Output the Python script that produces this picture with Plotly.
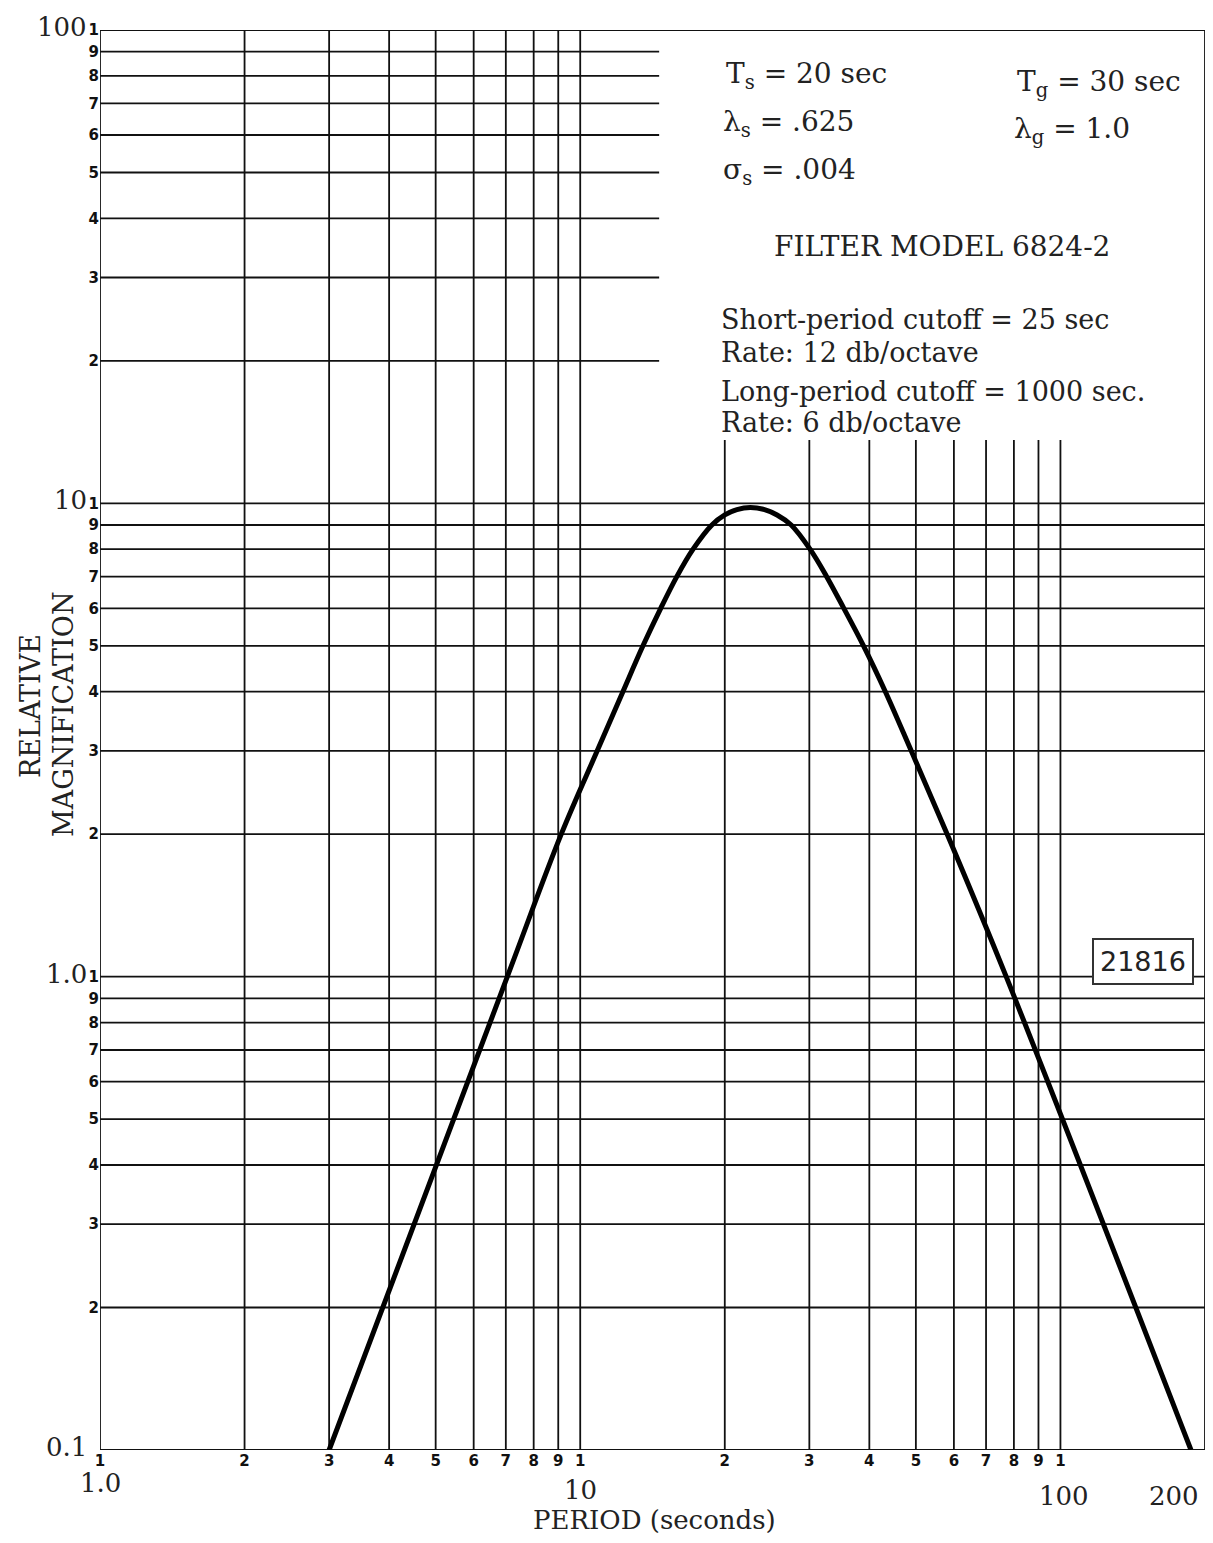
import math
import plotly.graph_objects as go

# ---------------- data ----------------
period = [3.0, 7.05, 9.13, 10.85, 12.27, 13.51, 14.71, 15.89, 17.18, 18.8, 20.0, 21.2,
          22.6, 24.2, 25.7, 27.5, 30.1, 32.6, 35.4, 38.9, 43.2, 48.9, 58.1, 77.1, 187.0]
magnification = [0.1, 1.0, 2.0, 3.0, 4.0, 5.0, 6.0, 7.0, 8.0, 9.0, 9.45, 9.7,
                 9.8, 9.7, 9.45, 9.0, 8.0, 7.0, 6.0, 5.0, 4.0, 3.0, 2.0, 1.0, 0.1]

x_grid_full = [1, 2, 3, 4, 5, 6, 7, 8, 9, 10, 200]
x_grid_short = [20, 30, 40, 50, 60, 70, 80, 90, 100]
y_grid_full = [0.1, 0.2, 0.3, 0.4, 0.5, 0.6, 0.7, 0.8, 0.9,
               1, 2, 3, 4, 5, 6, 7, 8, 9, 10, 100]
y_grid_short = [20, 30, 40, 50, 60, 70, 80, 90]

x_tickvals = [1, 2, 3, 4, 5, 6, 7, 8, 9, 10, 20, 30, 40, 50, 60, 70, 80, 90, 100, 200]
x_ticktext = ["1", "2", "3", "4", "5", "6", "7", "8", "9", "1",
              "2", "3", "4", "5", "6", "7", "8", "9", "1", "2"]
y_tickvals = [0.1, 0.2, 0.3, 0.4, 0.5, 0.6, 0.7, 0.8, 0.9, 1, 2, 3, 4, 5, 6, 7, 8, 9,
              10, 20, 30, 40, 50, 60, 70, 80, 90, 100]
y_ticktext = ["", "2", "3", "4", "5", "6", "7", "8", "9", "1", "2", "3", "4", "5", "6",
              "7", "8", "9", "1", "2", "3", "4", "5", "6", "7", "8", "9", "1"]

x_big_vals = [1, 10, 100, 200]
x_big_text = ["1.0", "10", "100", "200"]
y_big_vals = [100, 10, 1, 0.1]
y_big_text = ["100", "10", "1.0", "0.1"]

X_MIN, X_MAX = 1, 200
Y_MIN, Y_MAX = 0.1, 100
X_SHORT_END = 14.6     # top-decade horizontal lines stop here
Y_SHORT_END = 13.6     # second-decade vertical lines stop here

# ---------------- figure ----------------
fig = go.Figure()

gx, gy = [], []
for v in x_grid_full:
    gx += [v, v, None]; gy += [Y_MIN, Y_MAX, None]
for v in x_grid_short:
    gx += [v, v, None]; gy += [Y_MIN, Y_SHORT_END, None]
for v in y_grid_full:
    gx += [X_MIN, X_MAX, None]; gy += [v, v, None]
for v in y_grid_short:
    gx += [X_MIN, X_SHORT_END, None]; gy += [v, v, None]
fig.add_trace(go.Scatter(x=gx, y=gy, mode="lines",
                         line=dict(color="#111111", width=1.8),
                         hoverinfo="skip", showlegend=False))

fig.add_trace(go.Scatter(x=period, y=magnification, mode="lines",
                         line=dict(color="#000000", width=5, shape="spline", smoothing=1.0),
                         showlegend=False))

serif = "DejaVu Serif"
TXT = "#222222"

# plot area on the page (the page body has an 8px margin)
PL, PR, PT, PB = 100, 1205, 30, 1450

def px2paper(px, py):
    return (px - PL) / (PR - PL), (PB - py) / (PB - PT)

anns = []
xshift_big = {1: 0, 10: 0, 100: 4, 200: -31}
yshift_big = {1: -33, 10: -40, 100: -46, 200: -46}
for v, t in zip(x_big_vals, x_big_text):
    anns.append(dict(x=math.log10(v), y=math.log10(Y_MIN), xref="x", yref="y", text=t,
                     showarrow=False, yshift=yshift_big[v], xshift=xshift_big[v],
                     xanchor="center", yanchor="middle",
                     font=dict(family=serif, size=26, color=TXT)))
for v, t in zip(y_big_vals, y_big_text):
    anns.append(dict(x=0, y=math.log10(v), xref="x", yref="y", text=t,
                     showarrow=False, xshift=-11, yshift=3, xanchor="right", yanchor="middle",
                     font=dict(family=serif, size=26, color=TXT)))

def pa(px, py, text, size=27, xanchor="left", fam=serif, **kw):
    x, y = px2paper(px, py)
    d = dict(x=x, y=y, xref="paper", yref="paper", text=text, showarrow=False,
             xanchor=xanchor, yanchor="middle", font=dict(family=fam, size=size, color=TXT))
    d.update(kw)
    anns.append(d)

pa(724, 76, "T<sub>s</sub> = 20 sec", size=28)
pa(1015, 84, "T<sub>g</sub> = 30 sec", size=28)
pa(721, 123, "λ<sub>s</sub> = .625", size=28)
pa(1012, 130, "λ<sub>g</sub> = 1.0", size=28)
pa(721, 172, "σ<sub>s</sub> = .004", size=28)
pa(942, 246, "FILTER MODEL 6824-2", size=28, xanchor="center")
pa(719, 320, "Short-period cutoff = 25 sec")
pa(719, 352, "Rate: 12 db/octave")
pa(719, 391, "Long-period cutoff = 1000 sec.")
pa(719, 423, "Rate: 6 db/octave")

# stamped number box
pa(1143, 961, "21816", size=27, xanchor="center", fam="DejaVu Sans",
   bordercolor="#333333", borderwidth=2, borderpad=6, bgcolor="white")

# axis titles
pa(30, 706, "RELATIVE", size=27, xanchor="center", textangle=-90)
pa(63, 714, "MAGNIFICATION", size=27, xanchor="center", textangle=-90)
pa(654, 1520, "PERIOD (seconds)", size=26, xanchor="center")

fig.update_layout(
    width=1197, height=1527,
    margin=dict(l=PL - 8, r=1197 - (PR - 8), t=PT - 8, b=1527 - (PB - 8)),
    paper_bgcolor="white", plot_bgcolor="white",
    annotations=anns,
    showlegend=False,
)
tick_font = dict(family="DejaVu Sans", size=15, color="#111111", weight="bold")
fig.update_xaxes(type="log", range=[0, math.log10(200)], showgrid=False, zeroline=False,
                 tickmode="array", tickvals=x_tickvals, ticktext=x_ticktext,
                 ticks="", tickfont=tick_font, showline=False)
fig.update_yaxes(type="log", range=[-1, 2], showgrid=False, zeroline=False,
                 tickmode="array", tickvals=y_tickvals, ticktext=y_ticktext,
                 ticks="", tickfont=tick_font, showline=False)

fig.write_html("out.html")
